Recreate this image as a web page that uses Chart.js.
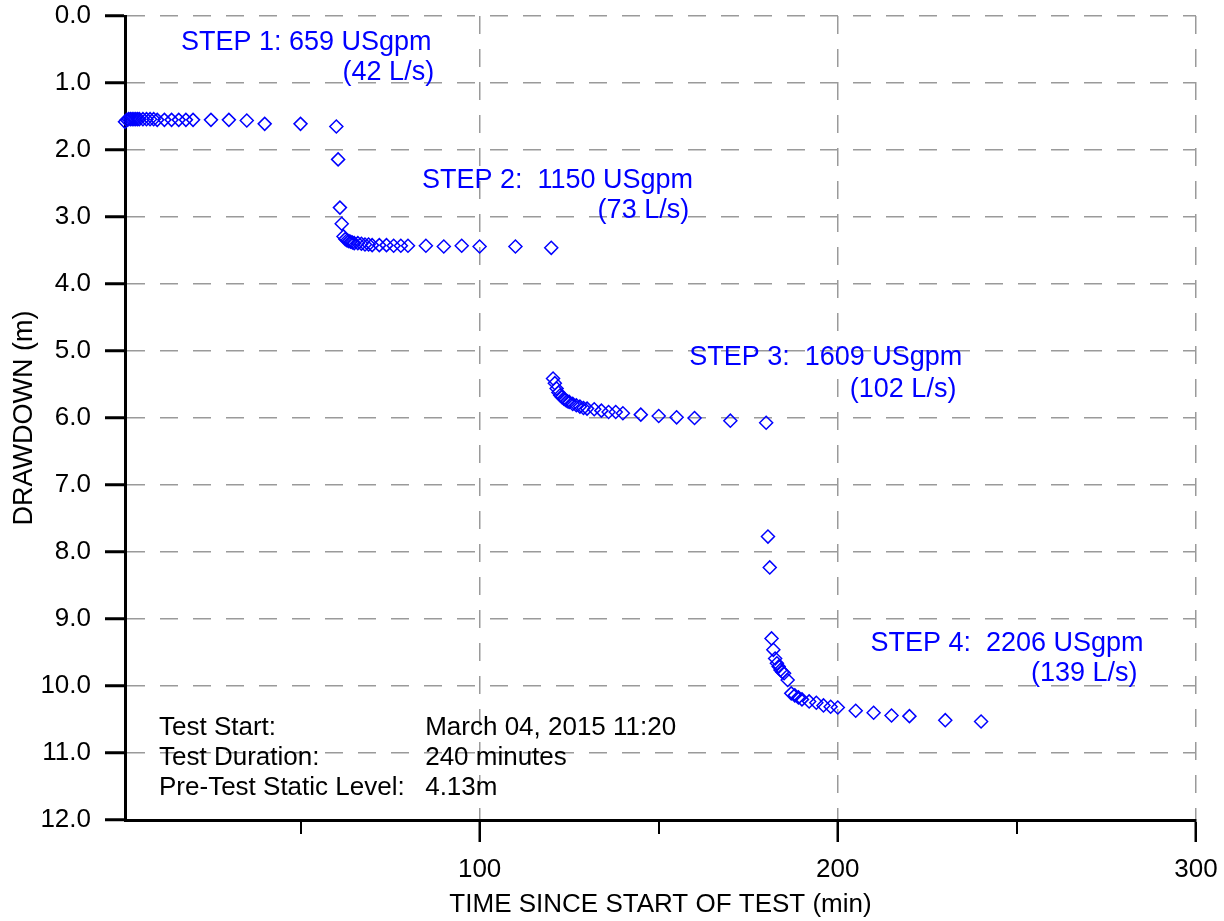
<!DOCTYPE html>
<html>
<head>
<meta charset="utf-8">
<script src="https://cdn.jsdelivr.net/npm/chart.js@4.4.1/dist/chart.umd.min.js"></script>
<style>
  html, body { margin: 0; padding: 0; background: #fff; }
</style>
</head>
<body>
<canvas id="area" width="1224" height="921"></canvas>
<script>
      // step test readings: time since start (min) and drawdown (m)
      var step1Time = [1, 1.5, 2, 2.5, 3, 3.5, 4, 4.5, 5, 6, 7, 8, 9, 10, 12, 14, 16, 18, 20, 25, 30, 35, 40, 50, 60];
      var step1Draw = [1.58, 1.55, 1.54, 1.54, 1.54, 1.54, 1.54, 1.54, 1.54, 1.54, 1.54, 1.54, 1.54, 1.55, 1.55, 1.55, 1.55, 1.55, 1.55, 1.55, 1.55, 1.56, 1.61, 1.61, 1.65];
      var step2Time = [60.5, 61, 61.5, 62, 62.5, 63, 63.5, 64, 64.5, 65, 66, 67, 68, 69, 70, 72, 74, 76, 78, 80, 85, 90, 95, 100, 110, 120];
      var step2Draw = [2.14, 2.86, 3.10, 3.29, 3.33, 3.35, 3.36, 3.37, 3.38, 3.39, 3.39, 3.40, 3.41, 3.41, 3.42, 3.42, 3.42, 3.43, 3.43, 3.43, 3.43, 3.44, 3.43, 3.44, 3.44, 3.46];
      var step3Time = [120.5, 121, 121.5, 122, 122.5, 123, 123.5, 124, 124.5, 125, 126, 127, 128, 129, 130, 132, 134, 136, 138, 140, 145, 150, 155, 160, 170, 180];
      var step3Draw = [5.41, 5.48, 5.56, 5.62, 5.66, 5.69, 5.71, 5.73, 5.75, 5.76, 5.79, 5.81, 5.83, 5.85, 5.86, 5.87, 5.89, 5.91, 5.91, 5.93, 5.95, 5.97, 5.99, 6.00, 6.04, 6.07];
      var step4Time = [180.5, 181, 181.5, 182, 182.5, 183, 183.5, 184, 184.5, 185, 186, 187, 188, 189, 190, 192, 194, 196, 198, 200, 205, 210, 215, 220, 230, 240];
      var step4Draw = [7.77, 8.23, 9.29, 9.46, 9.59, 9.66, 9.71, 9.76, 9.79, 9.81, 9.91, 10.11, 10.14, 10.17, 10.20, 10.23, 10.25, 10.29, 10.31, 10.32, 10.37, 10.40, 10.44, 10.45, 10.51, 10.53];

      var xMajor = [100, 200, 300];
      var xMinor = [50, 150, 250];

      var notes = [
        {text: 'STEP 1: 659 USgpm', x: 16.6, y: 0.39, align: 'left', color: '#0000ff', size: 27},
        {text: '(42 L/s)', x: 87.3, y: 0.85, align: 'right', color: '#0000ff', size: 27},
        {text: 'STEP 2:  1150 USgpm', x: 83.9, y: 2.45, align: 'left', color: '#0000ff', size: 27},
        {text: '(73 L/s)', x: 158.5, y: 2.9, align: 'right', color: '#0000ff', size: 27},
        {text: 'STEP 3:  1609 USgpm', x: 158.5, y: 5.1, align: 'left', color: '#0000ff', size: 27},
        {text: '(102 L/s)', x: 233.1, y: 5.58, align: 'right', color: '#0000ff', size: 27},
        {text: 'STEP 4:  2206 USgpm', x: 209.1, y: 9.36, align: 'left', color: '#0000ff', size: 27},
        {text: '(139 L/s)', x: 283.7, y: 9.81, align: 'right', color: '#0000ff', size: 27},
        {text: 'Test Start:', x: 10.5, y: 10.63, align: 'left', color: '#000', size: 26},
        {text: 'March 04, 2015 11:20', x: 84.8, y: 10.63, align: 'left', color: '#000', size: 26},
        {text: 'Test Duration:', x: 10.5, y: 11.07, align: 'left', color: '#000', size: 26},
        {text: '240 minutes', x: 84.8, y: 11.07, align: 'left', color: '#000', size: 26},
        {text: 'Pre-Test Static Level:', x: 10.5, y: 11.52, align: 'left', color: '#000', size: 26},
        {text: '4.13m', x: 84.8, y: 11.52, align: 'left', color: '#000', size: 26}
      ];

      function pairs(t, d) {
        return t.map(function (v, i) { return {x: v, y: d[i]}; });
      }
      var points = [].concat(pairs(step1Time, step1Draw), pairs(step2Time, step2Draw),
                             pairs(step3Time, step3Draw), pairs(step4Time, step4Draw));

      var FONT = "'Liberation Sans', Arial, sans-serif";

      var extras = {
        id: 'extras',
        afterDraw: function (chart) {
          var c = chart.ctx, xs = chart.scales.x, ys = chart.scales.y;
          c.save();
          // short ticks between the labelled ones
          c.strokeStyle = '#000';
          c.lineWidth = 2;
          xMinor.forEach(function (v) {
            var px = Math.round(xs.getPixelForValue(v));
            c.beginPath();
            c.moveTo(px, chart.chartArea.bottom);
            c.lineTo(px, chart.chartArea.bottom + 14);
            c.stroke();
          });
          c.textBaseline = 'middle';
          notes.forEach(function (n) {
            c.font = n.size + 'px ' + FONT;
            c.fillStyle = n.color;
            c.textAlign = n.align;
            c.fillText(n.text, xs.getPixelForValue(n.x), ys.getPixelForValue(n.y));
          });
          c.restore();
        }
      };

      var ctx = document.getElementById('area');
      var myChart = new Chart(ctx, {
        type: 'scatter',
        data: {
          datasets: [{
            label: 'Drawdown',
            data: points,
            pointStyle: 'rectRot',
            pointRadius: 6.5,
            pointHoverRadius: 6.5,
            borderColor: '#0000ff',
            backgroundColor: 'rgba(0,0,0,0)',
            borderWidth: 1.5,
            showLine: false,
            clip: false
          }]
        },
        options: {
          responsive: false,
          animation: false,
          events: [],
          layout: {padding: {top: 16, right: 28, left: 0, bottom: 0}},
          plugins: {legend: {display: false}, tooltip: {enabled: false}},
          scales: {
            x: {
              type: 'linear',
              position: 'bottom',
              min: 1,
              max: 300,
              afterFit: function (s) { s.height = 101; s.paddingLeft = 0; s.paddingRight = 0; },
              afterBuildTicks: function (s) {
                s.ticks = xMajor.map(function (v) { return {value: v}; });
              },
              ticks: {
                maxRotation: 0,
                autoSkip: false,
                color: '#000',
                padding: 12,
                font: {family: FONT, size: 26},
                callback: function (v) { return String(v); }
              },
              grid: {
                color: '#9a9a9a',
                tickColor: '#000',
                lineWidth: 1.5,
                tickLength: 22,
                tickWidth: 2.5
              },
              border: {color: '#000', width: 3, dash: [18, 15]},
              title: {
                display: true,
                text: 'TIME SINCE START OF TEST (min)',
                color: '#000',
                font: {family: FONT, size: 26},
                padding: {top: 0, bottom: 1}
              }
            },
            y: {
              type: 'linear',
              reverse: true,
              min: 0,
              max: 12,
              afterFit: function (s) { s.width = 125; s.paddingTop = 0; s.paddingBottom = 0; },
              ticks: {
                stepSize: 1,
                color: '#000',
                padding: 14,
                font: {family: FONT, size: 26},
                callback: function (v) { return v.toFixed(1); }
              },
              grid: {
                color: '#9a9a9a',
                tickColor: '#000',
                lineWidth: 1.5,
                tickLength: 20,
                tickWidth: 3
              },
              border: {color: '#000', width: 3, dash: [18, 15]},
              title: {
                display: true,
                text: 'DRAWDOWN (m)',
                color: '#000',
                font: {family: FONT, size: 27},
                padding: {top: 8, bottom: 0}
              }
            }
          }
        },
        plugins: [extras]
      });
</script>
</body>
</html>
